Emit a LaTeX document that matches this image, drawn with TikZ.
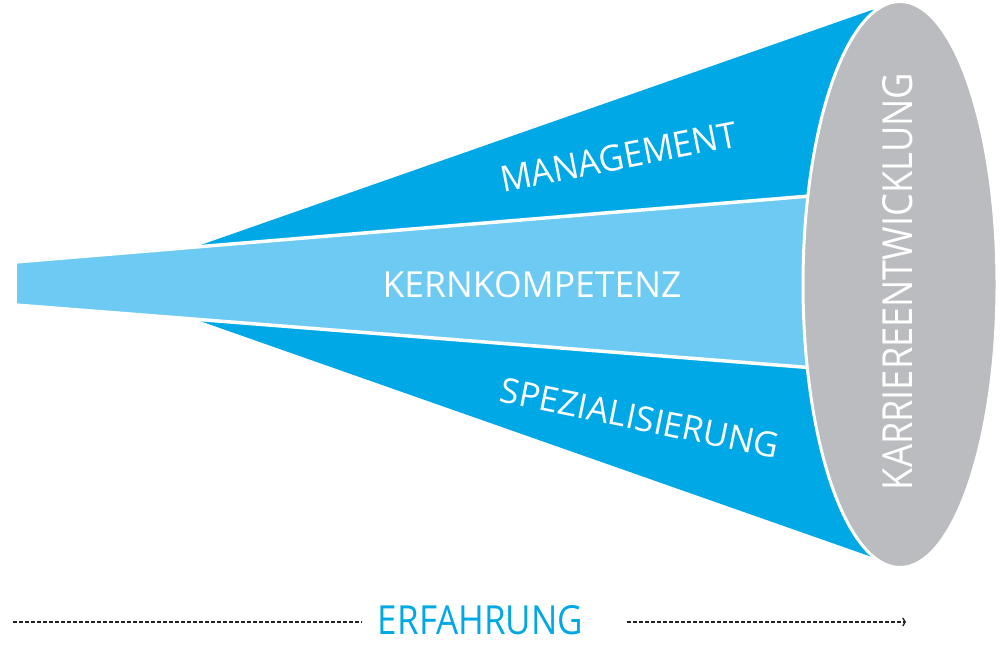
\documentclass[tikz,border=0pt]{standalone}
\usepackage{fontspec}
\setmainfont{Open Sans}
\usetikzlibrary{arrows.meta,shapes.geometric}
\definecolor{darkblue}{HTML}{00A8E6}
\definecolor{lightblue}{HTML}{6DCBF3}
\definecolor{greyell}{HTML}{BBBCBF}
\definecolor{dashgrey}{HTML}{222222}
\begin{document}
\begin{tikzpicture}[x=1pt,y=1pt,
  darkpart/.style={fill=darkblue,draw=none},
  lightpart/.style={fill=lightblue,draw=white,line width=3.5pt,line join=miter},
  lbl/.style={text=white,inner sep=0pt,anchor=center},
  dashline/.style={draw=dashgrey,line width=2pt,dash pattern=on 4pt off 2pt}]
\useasboundingbox (0,0) rectangle (1000,650);
% cone parts
\fill[darkpart] (195,403) -- (872,640) -- (900,640) -- (900,456) -- (840,456.5) -- cycle;
\fill[darkpart] (195,330.7) -- (872,93) -- (900,93) -- (900,275) -- (840,280) -- cycle;
\filldraw[lightpart] (15,388) -- (15,345) -- (840,280) -- (840,456.5) -- cycle;
% ellipse
\node[ellipse, fill=greyell, draw=white, line width=3pt, minimum width=194pt, minimum height=566pt, inner sep=0pt] (ell) at (900,365.5) {};
% labels
\node[lbl,rotate=11] (mgmt) at (618.5,493.3) {\resizebox{240pt}{26pt}{MANAGEMENT}};
\node[lbl] (kern) at (532,365) {\resizebox{299pt}{26pt}{KERNKOMPETENZ}};
\node[lbl,rotate=-11.5] (spez) at (640,232) {\resizebox{283pt}{25pt}{SPEZIALISIERUNG}};
\node[lbl,rotate=90] (karr) at (898,368.5) {\resizebox{417pt}{30pt}{KARRIEREENTWICKLUNG}};
% experience axis
\node[inner sep=0pt,text=darkblue] (erf) at (480.5,30) {\resizebox{205pt}{29pt}{ERFAHRUNG}};
\coordinate (l1) at (13,28);
\coordinate (l2) at (362,28);
\coordinate (r1) at (627,28);
\coordinate (r2) at (906,28);
\draw[dashline] (l1) -- (l2);
\draw[dashline,-{Straight Barb[length=2.5pt,width=8pt,line width=1.3pt]}] (r1) -- (r2);
\end{tikzpicture}
\end{document}
